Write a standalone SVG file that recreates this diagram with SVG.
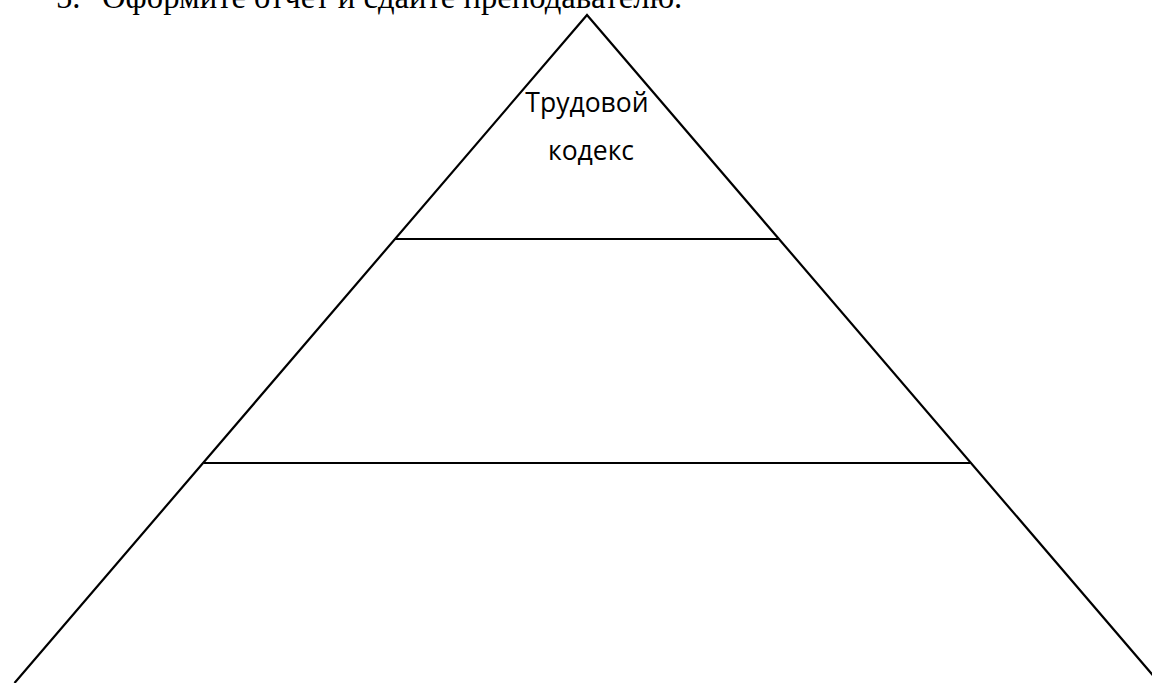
<svg xmlns="http://www.w3.org/2000/svg" width="1152" height="683" viewBox="0 0 1152 683">
<style>
.ln{stroke:#000;stroke-width:2.2;fill:none}
.title{font-family:"Liberation Serif","Times New Roman",serif;font-size:32.7px;fill:#000}
.lbl{font-family:"Open Sans","Liberation Sans",sans-serif;font-size:26.5px;fill:#000;text-anchor:middle}
</style>
<rect width="1152" height="683" fill="#fff"/>
<text class="title" x="56" y="8">5.</text>
<text class="title" x="102" y="8">Оформите отчет и сдайте преподавателю.</text>
<g id="connectors">
<polyline class="ln" points="14.5,683 587,15 1159.5,683"/>
<line class="ln" x1="395" y1="239" x2="778" y2="239"/>
<line class="ln" x1="204" y1="463" x2="970" y2="463"/>
</g>
<g id="node-top">
<text class="lbl" x="587" y="112">Трудовой</text>
<text class="lbl" x="591" y="160">кодекс</text>
</g>
</svg>
